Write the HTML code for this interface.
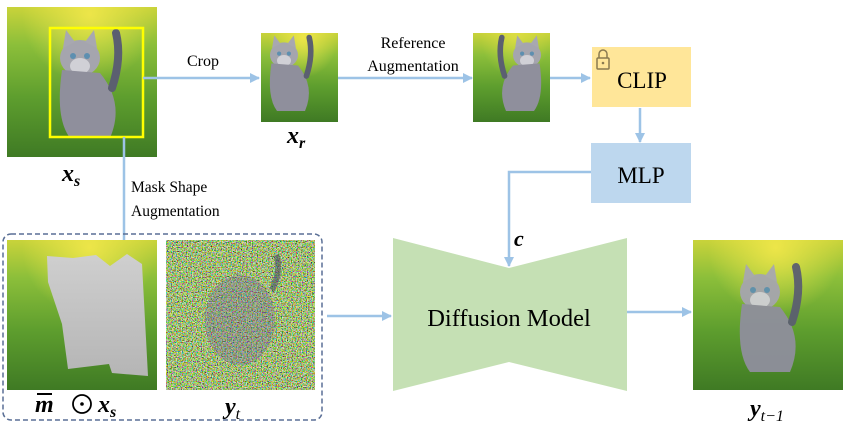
<!DOCTYPE html>
<html><head><meta charset="utf-8"><style>
html,body{margin:0;padding:0;background:#fff;}
svg{display:block;}
text{font-family:"Liberation Serif",serif;fill:#000;}
</style></head><body>
<svg width="852" height="428" viewBox="0 0 852 428" xmlns="http://www.w3.org/2000/svg">
<defs>
  <linearGradient id="bg" x1="0" y1="0" x2="0" y2="1">
    <stop offset="0" stop-color="#c9d33a"/>
    <stop offset="0.25" stop-color="#8cbf3a"/>
    <stop offset="0.6" stop-color="#5e9e2e"/>
    <stop offset="1" stop-color="#3f7a24"/>
  </linearGradient>
  <radialGradient id="sun" cx="0.55" cy="0.05" r="0.45">
    <stop offset="0" stop-color="#f2e84a" stop-opacity="0.9"/>
    <stop offset="1" stop-color="#f2e84a" stop-opacity="0"/>
  </radialGradient>
  <linearGradient id="gray" x1="0" y1="0" x2="0" y2="1">
    <stop offset="0" stop-color="#cfcfcf"/><stop offset="1" stop-color="#b5b5b5"/>
  </linearGradient>
  <filter id="noise" x="0" y="0" width="100%" height="100%">
    <feTurbulence type="fractalNoise" baseFrequency="0.8" numOctaves="2" seed="3" result="n"/>
    <feColorMatrix type="matrix" values="3.2 0 0 0 -1.1  0 3.2 0 0 -0.95  0 0 3.2 0 -1.3  0 0 0 0 1" in="n"/>
  </filter>
  <g id="cat">
    <ellipse cx="0" cy="0" rx="20" ry="18" fill="#a5a5ae"/>
    <path d="M-17,-10 L-14,-28 L-5,-16 Z M17,-10 L14,-28 L5,-16 Z" fill="#a8a8b0"/>
    <ellipse cx="0" cy="8" rx="10" ry="8" fill="#d0d0d6"/>
    <circle cx="-7" cy="-2" r="3" fill="#5d8fb0"/><circle cx="7" cy="-2" r="3" fill="#5d8fb0"/>
    <path d="M-18,12 Q-25,60 -10,80 L30,80 Q45,45 20,15 Z" fill="#8f8f9c"/>
    <path d="M32,30 Q42,0 36,-25" stroke="#5b5f70" stroke-width="8" fill="none" stroke-linecap="round"/>
  </g>
  <marker id="ar" markerWidth="10" markerHeight="10" refX="9" refY="5" orient="auto" markerUnits="userSpaceOnUse">
    <path d="M0,0 L10,5 L0,10 Z" fill="#9dc3e6"/>
  </marker>
</defs>

<!-- x_s image -->
<rect x="7" y="7" width="150" height="150" fill="url(#bg)"/>
<rect x="7" y="7" width="150" height="150" fill="url(#sun)"/>
<use href="#cat" transform="translate(80,58)"/>
<rect x="50" y="28" width="93" height="109" fill="none" stroke="#ffff00" stroke-width="2.5"/>
<text x="62" y="181" font-size="24" font-style="italic" font-weight="bold">x<tspan font-size="16" dy="5">s</tspan></text>

<!-- crop arrow -->
<line x1="143" y1="78" x2="259" y2="78" stroke="#9dc3e6" stroke-width="2.5" marker-end="url(#ar)"/>
<text x="187" y="66" font-size="16">Crop</text>

<!-- x_r -->
<rect x="261" y="33" width="77" height="89" fill="url(#bg)"/>
<rect x="261" y="33" width="77" height="89" fill="url(#sun)"/>
<use href="#cat" transform="translate(284,55) scale(0.7)"/>
<text x="287" y="143" font-size="24" font-style="italic" font-weight="bold">x<tspan font-size="16" dy="5">r</tspan></text>

<line x1="338" y1="78" x2="472" y2="78" stroke="#9dc3e6" stroke-width="2.5" marker-end="url(#ar)"/>
<text x="413" y="48" font-size="16" text-anchor="middle">Reference</text>
<text x="413" y="71" font-size="16" text-anchor="middle">Augmentation</text>

<!-- augmented -->
<rect x="473" y="33" width="77" height="89" fill="url(#bg)"/>
<rect x="473" y="33" width="77" height="89" fill="url(#sun)" opacity="0.6"/>
<use href="#cat" transform="translate(527,55) scale(-0.7,0.7)"/>

<line x1="550" y1="78" x2="590" y2="78" stroke="#9dc3e6" stroke-width="2.5" marker-end="url(#ar)"/>

<!-- CLIP -->
<rect x="592" y="47" width="99" height="60" fill="#ffe699"/>
<rect x="597" y="58" width="12" height="11" rx="1" fill="none" stroke="#8a7a50" stroke-width="1.5"/>
<path d="M599,58 V54 a4,4 0 0 1 8,0 V58" fill="none" stroke="#8a7a50" stroke-width="1.5"/>
<circle cx="603" cy="63" r="1.3" fill="#8a7a50"/>
<text x="642" y="88" font-size="23" text-anchor="middle">CLIP</text>

<line x1="640" y1="108" x2="640" y2="142" stroke="#9dc3e6" stroke-width="2.5" marker-end="url(#ar)"/>

<!-- MLP -->
<rect x="591" y="143" width="100" height="60" fill="#bdd7ee"/>
<text x="641" y="183" font-size="23" text-anchor="middle">MLP</text>

<polyline points="591,172 509,172 509,266" fill="none" stroke="#9dc3e6" stroke-width="2.5" marker-end="url(#ar)"/>
<text x="514" y="246" font-size="22" font-style="italic" font-weight="bold">c</text>

<!-- Diffusion -->
<polygon points="393,238 509,268 627,238 627,391 509,362 393,391" fill="#c5e0b4"/>
<text x="509" y="326" font-size="24.5" text-anchor="middle">Diffusion Model</text>

<line x1="627" y1="312" x2="691" y2="312" stroke="#9dc3e6" stroke-width="2.5" marker-end="url(#ar)"/>

<!-- y_{t-1} -->
<rect x="693" y="240" width="150" height="150" fill="url(#bg)"/>
<rect x="693" y="240" width="150" height="150" fill="url(#sun)"/>
<use href="#cat" transform="translate(760,292)" opacity="0.95"/>
<text x="750" y="416" font-size="24" font-style="italic" font-weight="bold">y<tspan font-size="16" dy="5" font-weight="normal">t−1</tspan></text>

<!-- mask shape arrow -->
<line x1="124" y1="137" x2="124" y2="250" stroke="#9dc3e6" stroke-width="2.5" marker-end="url(#ar)"/>
<text x="131" y="192" font-size="15.5">Mask Shape</text>
<text x="131" y="216" font-size="15.5">Augmentation</text>

<!-- dashed box -->
<rect x="3" y="234" width="319" height="186" rx="8" fill="none" stroke="#5a6f96" stroke-width="1.5" stroke-dasharray="5,3"/>

<!-- masked image -->
<rect x="7" y="240" width="150" height="150" fill="url(#bg)"/>
<rect x="7" y="240" width="150" height="150" fill="url(#sun)"/>
<polygon points="47,256 73,258 96,255 110,266 127,254 142,264 148,376 112,373 109,364 68,369 62,324 48,282" fill="url(#gray)"/>
<text x="35" y="412" font-size="24" font-style="italic" font-weight="bold">m</text>
<line x1="37" y1="394" x2="52" y2="394" stroke="#000" stroke-width="2"/>
<circle cx="82" cy="404" r="9" fill="none" stroke="#000" stroke-width="1.8"/>
<circle cx="82" cy="404" r="1.8" fill="#000"/>
<text x="98" y="412" font-size="24" font-style="italic" font-weight="bold">x<tspan font-size="16" dy="5">s</tspan></text>

<!-- y_t -->
<rect x="166" y="240" width="149" height="150" fill="#6f8a4a"/>
<rect x="166" y="240" width="149" height="150" filter="url(#noise)" opacity="0.8"/>
<ellipse cx="240" cy="320" rx="35" ry="45" fill="#6a5a9a" opacity="0.3"/>
<path d="M272,290 Q282,270 276,255" stroke="#3a3f60" stroke-width="6" fill="none" opacity="0.5"/>
<text x="225" y="414" font-size="24" font-style="italic" font-weight="bold">y<tspan font-size="16" dy="5" font-weight="normal">t</tspan></text>

<line x1="327" y1="316" x2="391" y2="316" stroke="#9dc3e6" stroke-width="2.5" marker-end="url(#ar)"/>
</svg>
</body></html>
